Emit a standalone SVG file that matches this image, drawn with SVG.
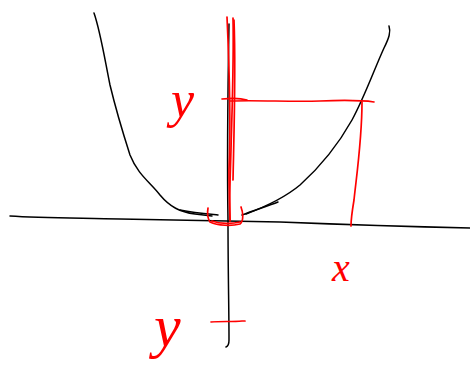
<svg xmlns="http://www.w3.org/2000/svg" width="470" height="367" viewBox="0 0 470 367">
<style>
.k{fill:none;stroke:#000;stroke-width:1.5;stroke-linecap:round;stroke-linejoin:round}
.r{fill:none;stroke:#f00;stroke-width:1.7;stroke-linecap:round;stroke-linejoin:round}
.t{fill:#f00;font-family:"Liberation Serif",serif;font-style:italic}
</style>
<rect width="470" height="367" fill="#fff"/>
<g id="axes">
<path class="k" d="M10,216 C40,218 80,218 120,219 C170,220 220,221 280,222 C330,224 380,226 470,228"/>
<path class="k" d="M229,24 C228,80 227,160 228,220 C228,270 229,310 229,340 Q229,346 226,347"/>
</g>
<g id="parabola">
<path class="k" d="M94,13 C100,30 104,55 110,85 C116,110 122,130 130,155 C138,175 150,182 160,195 C170,207 180,212 195,214 L212,216"/>
<path class="k" d="M246,214 C262,208 282,200 300,185 C320,167 338,145 352,120 C364,98 374,70 384,48 C389,38 391,32 389,26"/>
<path class="k" d="M180,210 C195,213 208,214 218,215"/>
<path class="k" d="M242,215 C255,210 268,206 278,202"/>
</g>
<g id="sketch">
<path class="r" d="M227,17 C229,60 231,120 229,170 C229,195 230,210 230,221"/>
<path class="r" d="M233,18 C234,60 232,110 231,150 C230,185 229,205 230,220"/>
<path class="r" d="M234,20 C236,70 234,130 233,180"/>
<path class="r" d="M222,99 C232,98 240,98 247,100"/>
<path class="r" d="M230,101 C260,100 290,102 320,101 C345,100 360,100 374,102"/>
<path class="r" d="M362,102 C362,140 356,180 354,200 C352,212 351,220 351,226"/>
<path class="r" d="M208,208 C207,214 208,219 210,222 C218,226 232,226 240,224 C244,221 243,212 241,207"/>
<path class="r" d="M212,221 C220,224 232,224 240,222"/>
<path class="r" d="M211,322 C222,321 232,322 242,321 L245,321"/>
</g>
<g id="labels">
<text class="t" x="171" y="117" font-size="52">y</text>
<text class="t" x="332" y="281" font-size="40" font-style="normal" font-family="Liberation Sans, sans-serif">x</text>
<text class="t" x="154" y="346" font-size="60">y</text>
</g>
</svg>
